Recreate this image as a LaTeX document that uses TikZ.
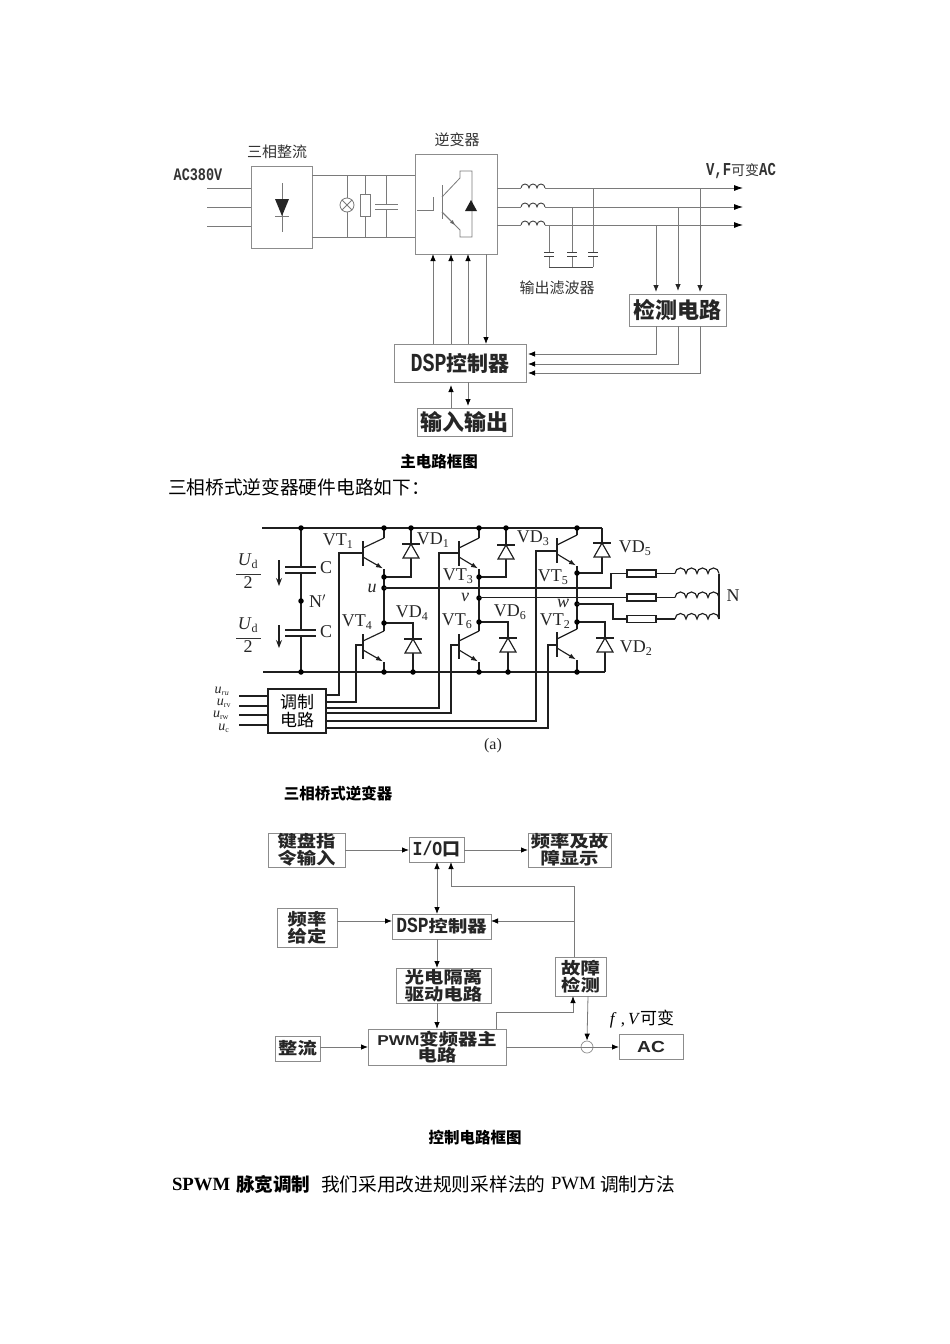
\documentclass[tikz,border=0pt]{standalone}
\usepackage{graphicx}
\usepackage{fontspec}
\setmainfont{Liberation Serif}
\newfontfamily\cjk{Noto Sans CJK SC}
\newfontfamily\latm{Liberation Mono}
\newfontfamily\lats{Liberation Sans}
\usetikzlibrary{arrows.meta,calc}
\newcommand\fs[1]{\fontsize{#1}{#1}\selectfont}
\tikzset{
  x=1pt,y=-1pt,
  lin/.style={draw=black!52,line width=0.8pt},
  arr/.style={lin,-{Latex[length=9pt,width=6pt,black]}},
  arrb/.style={lin,-{Latex[length=7pt,width=5.5pt,black]}},
  grayarr/.style={lin,-{Latex[length=7pt,width=5.5pt,black!85]}},
  box/.style={draw=black!45,line width=1pt,inner sep=0pt,outer sep=0pt,align=center,text=black!85},
  lbl/.style={inner sep=0pt,outer sep=0pt,align=center,text=black!80},
  ckt/.style={line width=1.15pt,draw=black!88},
  cktlbl/.style={inner sep=0pt,outer sep=0pt,text=black!85,font=\fs{18}},
  hbox/.style={draw=black!88,line width=1.2pt,inner sep=0pt,outer sep=0pt,align=center},
  dot/.style={circle,fill=black,inner sep=0pt,minimum size=5.5pt},
  para/.style={inner sep=0pt,outer sep=0pt,anchor=west,text=black},
}
% name, x1, y1, x2, y2, text, style
\newcommand\bx[7][box]{\node[#1,minimum width={(#4-#2)*1pt},minimum height={(#5-#3)*1pt}] (#7) at ({(#2+#4)/2},{(#3+#5)/2}) {#6};}
% bjt: bar x, bar top y, node x
\newcommand\bjt[3]{%
  \draw[ckt] (#1,#2) -- (#1,#2+25);
  \draw[ckt] (#1,#2+7) -- (#3,#2-3);
  \draw[ckt,-{Latex[length=7pt,width=5pt]}] (#1,#2+16) -- (#3-1,#2+27.5);
}
% diode pointing up: x, bar y, base y, half width
\newcommand\diode[4]{%
  \draw[ckt] (#1-#4-1,#2) -- (#1+#4+1,#2);
  \draw[ckt,fill=white] (#1,#2) -- (#1-#4,#3) -- (#1+#4,#3) -- cycle;
}
\newcommand\ind[4]{% x, y, n humps, radius
  \draw[ckt] (#1,#2) foreach \i in {1,...,#3} { arc (180:360:#4) };
}
\newcommand\cj[2]{{\cjk\bfseries\fs{#1}#2}}
\newcommand\cjw[1]{\scalebox{1.17}[1]{\cj{16.5}{#1}}}
\newcommand\mtall[2]{\scalebox{1}[1.3]{\latm\bfseries\fs{#1}#2}}
\begin{document}
\begin{tikzpicture}
\useasboundingbox (0,0) rectangle (950,1344);
\fill[white] (0,0) rectangle (950,1344);

%%% ---------- main circuit block diagram ----------
\bx{251}{166}{312}{248}{}{rect}
\bx{415}{154}{497}{254}{}{inv}
\bx{629}{294}{726}{326}{\cj{22}{检测电路}}{det}
\bx{394}{344}{526}{382}{\mtall{20}{DSP}\cj{21}{控制器}}{dsp}
\bx{417}{408}{512}{436}{\cj{22}{输入输出}}{io}

\node[lbl] (t1) at (277,152) {{\cjk\fs{15}三相整流}};
\node[lbl] (t2) at (457,140) {{\cjk\fs{15}逆变器}};
\node[lbl] (t3) at (198,175) {\mtall{13.5}{AC380V}};
\node[lbl] (t4) at (741,171) {\mtall{14}{V,F}{\cjk\fs{14}可变}\mtall{14}{AC}};
\node[lbl] (t5) at (557,288) {{\cjk\fs{15}输出滤波器}};

% AC input
\foreach \y in {188,207,226} \draw[lin] (207,\y) -- (rect.west |- 0,\y);
% rectifier symbol
\coordinate (rs1) at (282,183); \coordinate (rs2) at (282,232);
\draw[lin] (rs1) -- (rs2);
\fill[black!85] (275,199) -- (289,199) -- (282,216) -- cycle;
\draw[lin] (275,216) -- (289,216);
% DC bus
\draw[lin] (rect.east |- 0,175) -- (inv.west |- 0,175);
\draw[lin] (rect.east |- 0,237) -- (inv.west |- 0,237);
% lamp
\draw[lin] (347,175) -- (347,198) (347,212) -- (347,237);
\node[circle,draw=black!52,line width=0.8pt,minimum size=14pt,inner sep=0pt] (lamp) at (347,205) {};
\draw[lin] (lamp.45) -- (lamp.225) (lamp.135) -- (lamp.315);
% resistor
\draw[lin] (365,175) -- (365,237);
\node[draw=black!52,fill=white,line width=0.8pt,minimum width=10pt,minimum height=22pt,inner sep=0pt] (rr) at (365,205) {};
% capacitor
\draw[lin] (386,175) -- (386,204) (386,209) -- (386,237);
\draw[lin] (375,204) -- (398,204) (375,209) -- (398,209);
% IGBT symbol in inverter
\draw[lin] (442,185) -- (442,219);
\draw[lin] (442,197) -- (460,178) -- (460,171) -- (472,171) -- (472,237) -- (460,237) -- (460,230) -- (442,212);
\draw[lin] (417,210) -- (433,210) -- (433,197);
\fill[black!88] (471,200) -- (465,211) -- (477,211) -- cycle;
\draw[lin,-{Latex[length=5pt,width=4pt,black!60]}] (442,212) -- (455,225);
% outputs
\foreach \y in {188,207,225} {
  \draw[lin] (inv.east |- 0,\y) -- (521,\y);
  \draw[draw=black!75,line width=0.9pt] (521,\y) foreach \i in {1,2,3} { arc (180:360:4) };
  \draw[arr] (545,\y) -- (743,\y);
}
% filter caps
\draw[lin] (549,225) -- (549,252) (549,256) -- (549,267);
\draw[lin] (572,207) -- (572,252) (572,256) -- (572,267);
\draw[lin] (593,188) -- (593,252) (593,256) -- (593,267);
\foreach \x in {549,572,593} \draw[lin,draw=black!75] (\x-5,252) -- (\x+5,252) (\x-5,256) -- (\x+5,256);
\draw[lin,draw=black!70] (549,267) -- (593,267);
% detection
\draw[grayarr] (656,225) -- ($(det.north -| 656,0)+(0,-2)$);
\draw[grayarr] (678,207) -- ($(det.north -| 678,0)+(0,-3)$);
\draw[grayarr] (700,188) -- ($(det.north -| 700,0)+(0,-2)$);
\draw[arrb] (det.south -| 656,0) -- (656,354) -- ($(dsp.east |- 0,354)+(2,0)$);
\draw[arrb] (det.south -| 678,0) -- (678,364) -- ($(dsp.east |- 0,364)+(2,0)$);
\draw[arrb] (det.south -| 700,0) -- (700,373) -- ($(dsp.east |- 0,373)+(2,0)$);
% dsp <-> inverter
\foreach \x in {433,451,468} \draw[arrb] (dsp.north -| \x,0) -- (inv.south -| \x,0);
\draw[arrb] (inv.south -| 486,0) -- (dsp.north -| 486,0);
\draw[arrb] (io.north -| 451,0) -- ($(dsp.south -| 451,0)+(0,3)$);
\draw[arrb] (dsp.south -| 468,0) -- ($(io.north -| 468,0)+(0,-2)$);

\node[lbl,text=black] (c1) at (439,462) {\cj{15.5}{主电路框图}};
\node[para] (p1) at (168,487) {{\cjk\fs{18.7}三相桥式逆变器硬件电路如下：}};

%%% ---------- three-phase bridge ----------
\draw[ckt] (262,528) -- (602,528);
\draw[ckt] (263,672) -- (605,672);
% capacitors
\draw[ckt] (301,528) -- (301,567) (301,573) -- (301,630) (301,636) -- (301,672);
\draw[ckt] (285,567) -- (316,567) (285,573) -- (316,573) (285,630) -- (316,630) (285,636) -- (316,636);
\draw[ckt,-{Stealth[length=8pt,width=6pt]}] (279,560) -- (279,586);
\draw[ckt,-{Stealth[length=8pt,width=6pt]}] (279,625) -- (279,648);
\node[cktlbl] (cu) at (326,568) {C};
\node[cktlbl] (cd) at (326,632) {C};
\node[cktlbl,anchor=west] (np) at (309,601) {N$'$};
\draw[black!80,line width=0.8pt] (236,574) -- (261,574) (236,638) -- (261,638);
\node[cktlbl] (u1) at (248,561) {\textit{U}\textsubscript{\fs{12}d}};
\node[cktlbl] (u2) at (248,625) {\textit{U}\textsubscript{\fs{12}d}};
\node[cktlbl] (h1) at (248,583) {2};
\node[cktlbl] (h2) at (248,647) {2};

% leg u
\bjt{363}{541}{384}\bjt{363}{634}{384}
\draw[ckt] (384,538) -- (384,528) (384,569) -- (384,631) (384,662) -- (384,672);
% leg v
\bjt{459}{541}{479}\bjt{459}{634}{479}
\draw[ckt] (479,538) -- (479,528) (479,569) -- (479,631) (479,662) -- (479,672);
% leg w
\bjt{557}{538}{577}\bjt{557}{632}{577}
\draw[ckt] (577,535) -- (577,528) (577,566) -- (577,629) (577,660) -- (577,672);
% diodes
\draw[ckt] (411,528) -- (411,577) -- (384,577);
\diode{411}{544}{558}{8}
\draw[ckt] (384,623) -- (413,623) -- (413,672);
\diode{413}{639}{653}{8}
\draw[ckt] (506,528) -- (506,577) -- (479,577);
\diode{506}{545}{559}{8}
\draw[ckt] (479,622) -- (508,622) -- (508,672);
\diode{508}{638}{652}{8}
\draw[ckt] (602,528) -- (602,573) -- (577,573);
\diode{602}{543}{557}{8}
\draw[ckt] (577,622) -- (605,622) -- (605,672);
\diode{605}{638}{652}{8}
% dots
\foreach \p in {(301,528),(384,528),(411,528),(479,528),(506,528),(577,528),
  (301,601),(384,577),(384,588),(384,623),(479,577),(479,598),(479,622),(577,573),(577,604),(577,622),
  (301,672),(384,672),(413,672),(479,672),(508,672),(577,672)}
  \node[dot] at \p {};
% labels
\newcommand\sbl[4]{\node[cktlbl] at (#1,#2) {#3\textsubscript{\fs{12}#4}};}
\sbl{338}{541}{VT}{1}\sbl{433}{540}{VD}{1}
\sbl{458}{576}{VT}{3}\sbl{533}{538}{VD}{3}
\sbl{553}{577}{VT}{5}\sbl{635}{548}{VD}{5}
\sbl{357}{622}{VT}{4}\sbl{412}{613}{VD}{4}
\sbl{457}{621}{VT}{6}\sbl{510}{612}{VD}{6}
\sbl{555}{621}{VT}{2}\sbl{636}{648}{VD}{2}
\node[cktlbl] at (372,588) {\textit{u}};
\node[cktlbl] at (465,597) {\textit{v}};
\node[cktlbl] at (563,603) {\textit{w}};
\node[cktlbl] at (733,596) {N};
\node[cktlbl,font=\fs{16}] at (493,746) {(a)};
% modulator
\bx[hbox]{268}{689}{326}{733}{{\cjk\fs{17}调制}\\[1pt]{\cjk\fs{17}电路}}{mod}
\foreach \y in {696,706,715,725} \draw[ckt] (239,\y) -- (mod.west |- 0,\y);
\node[cktlbl,font=\fs{14},text height=6pt,text depth=0pt] at (222,690) {\textit{u}\textsubscript{\fs{8}\textit{ru}}};
\node[cktlbl,font=\fs{14},text height=6pt,text depth=0pt] at (224,702) {\textit{u}\textsubscript{\fs{8}rv}};
\node[cktlbl,font=\fs{14},text height=6pt,text depth=0pt] at (221,714) {\textit{u}\textsubscript{\fs{8}rw}};
\node[cktlbl,font=\fs{14},text height=6pt,text depth=0pt] at (224,727) {\textit{u}\textsubscript{\fs{8}c}};
\draw[ckt] (mod.east |- 0,695) -- (339,695) -- (339,553) -- (363,553);
\draw[ckt] (mod.east |- 0,702) -- (356,702) -- (356,645) -- (363,645);
\draw[ckt] (mod.east |- 0,708) -- (439,708) -- (439,553) -- (459,553);
\draw[ckt] (mod.east |- 0,713) -- (451,713) -- (451,645) -- (459,645);
\draw[ckt] (mod.east |- 0,721) -- (536,721) -- (536,551) -- (557,551);
\draw[ckt] (mod.east |- 0,728) -- (548,728) -- (548,645) -- (557,645);
% outputs and load
\draw[ckt] (384,588) -- (611,588) -- (611,573.5) -- (627,573.5);
\draw[ckt] (479,597.5) -- (627,597.5);
\draw[ckt] (577,604) -- (613,604) -- (613,619) -- (627,619);
\foreach \y/\n in {573.5/ra,597.5/rb,619/rc} {
  \node[draw=black!88,line width=1.15pt,minimum width=29pt,minimum height=7pt,inner sep=0pt] (\n) at (641.5,\y) {};
  \draw[ckt] (\n.east) -- (675,\y);
  \ind{675}{\y}{4}{5.5}
}
\draw[ckt] (719,573.5) -- (719,619);

\node[lbl,text=black] (c2) at (338,794) {\cj{15.5}{三相桥式逆变器}};

%%% ---------- control block diagram ----------
\bx{268}{833}{345}{867}{\cjw{键盘指}\\\cjw{令输入}}{kb}
\bx{409}{837}{464}{862}{\scalebox{1}[1.2]{\latm\bfseries\fs{16.5}I/O}\cj{18}{口}}{iop}
\bx{528}{833}{611}{867}{\cjw{频率及故}\\\cjw{障显示}}{fd}
\bx{277}{908}{337}{947}{\cjw{频率}\\\cjw{给定}}{fs}
\bx{392}{914}{491}{939}{\scalebox{1}[1.2]{\latm\bfseries\fs{18}DSP}\cjw{控制器}}{dsp2}
\bx{396}{968}{491}{1003}{\cjw{光电隔离}\\\cjw{驱动电路}}{opto}
\bx{555}{957}{606}{996}{\cjw{故障}\\\cjw{检测}}{fault}
\bx{275}{1036}{320}{1061}{\cjw{整流}}{rec}
\bx{368}{1029}{506}{1065}{\scalebox{1.15}[0.95]{\lats\bfseries\fs{15}PWM}\cjw{变频器主}\\\cjw{电路}}{pwm}
\bx{619}{1034}{683}{1059}{\scalebox{1.2}[1]{\lats\bfseries\fs{16}AC}}{ac}
\node[lbl,text=black] (fv) at (642,1019) {{\fs{17}\textit{f} ,\,\textit{V}}{\cjk\fs{17}可变}};
\node[circle,draw=black!45,line width=0.7pt,minimum size=12pt,inner sep=0pt] (sum) at (587,1047) {};

\draw[arrb] (kb.east |- 0,850) -- (iop.west |- 0,850);
\draw[arrb] (iop.east |- 0,850) -- (fd.west |- 0,850);
\draw[lin,{Latex[length=7pt,width=5.5pt,black]}-{Latex[length=7pt,width=5.5pt,black]}] (iop.south -| 437,0) -- (dsp2.north -| 437,0);
\draw[arrb] (fs.east |- 0,921) -- (dsp2.west |- 0,921);
\draw[arrb] (fault.north -| 574,0) -- (574,921) -- (dsp2.east |- 0,921);
\draw[arrb] (574,921) -- (574,886) -- (451,886) -- (iop.south -| 451,0);
\draw[arrb] (dsp2.south -| 437,0) -- (opto.north -| 437,0);
\draw[arrb] (opto.south -| 437,0) -- (pwm.north -| 437,0);
\draw[arrb] (rec.east |- 0,1047) -- (pwm.west |- 0,1047);
\draw[arrb] (pwm.east |- 0,1047) -- (ac.west |- 0,1047);
\draw[arrb] (fault.south -| 588,0) -- (sum.north);
\draw[arrb] (pwm.north -| 496,0) -- (496,1012) -- (573,1012) -- (fault.south -| 573,0);

\node[lbl,text=black] (c3) at (475,1138) {\cj{15.5}{控制电路框图}};
\node[para] (p2) at (172,1184) {{\bfseries\fs{18.7}SPWM}};
\node[para] (p2b) at (236,1184) {{\cjk\bfseries\fs{18.6}脉宽调制}};
\node[para] (p3) at (321,1184) {{\cjk\fs{18.7}我们采用改进规则采样法的}};
\node[para] (p4) at (551,1184) {\fs{18.7}PWM};
\node[para] (p5) at (600,1184) {{\cjk\fs{18.7}调制方法}};
\end{tikzpicture}
\end{document}
